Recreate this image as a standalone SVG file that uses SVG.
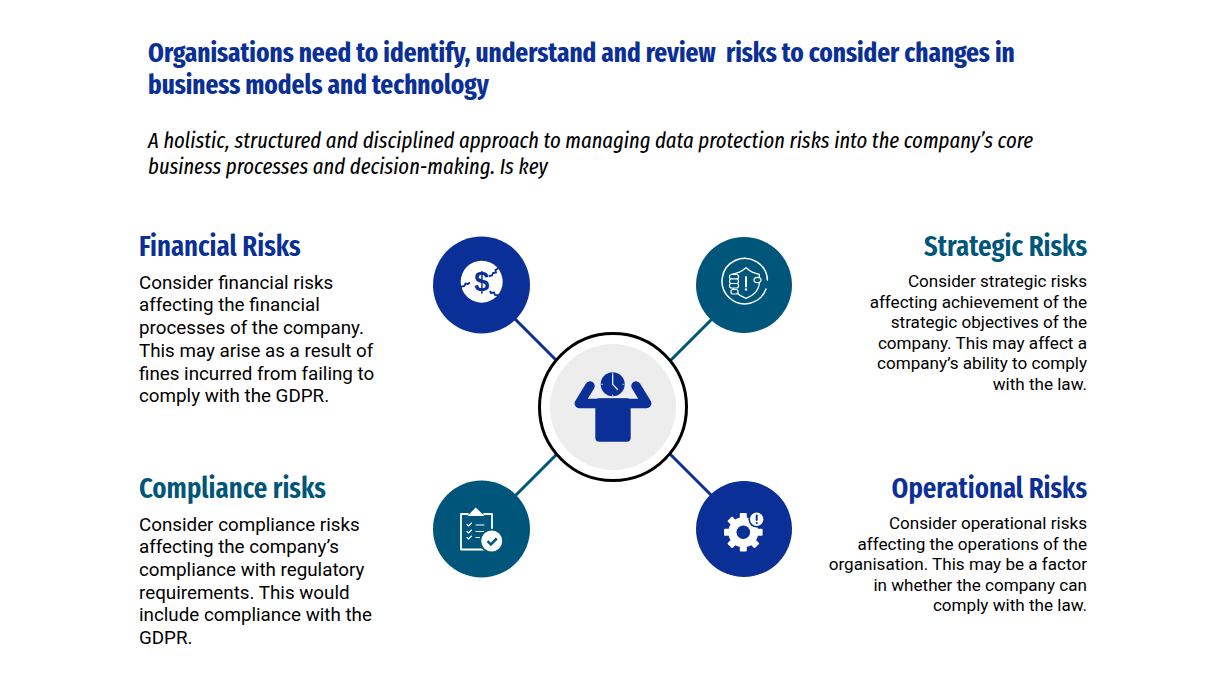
<svg xmlns="http://www.w3.org/2000/svg" width="1223" height="686" viewBox="0 0 1223 686">
<style>
.h{font-family:"Fira Sans Extra Condensed","Fira Sans Condensed","Liberation Sans Narrow",sans-serif;font-weight:700;white-space:pre}
.t{font-size:27.400px;fill:#0a2f96}
.i{font-family:"Fira Sans Extra Condensed","Fira Sans Condensed","Liberation Sans Narrow",sans-serif;font-style:italic;font-weight:400;font-size:22.400px;fill:#000}
.n{font-size:29px;font-weight:600}
.blue{fill:#0a2f96}
.teal{fill:#00567a}
.end{text-anchor:end}
.b{font-family:Roboto,"Liberation Sans",sans-serif;font-size:18.800px;fill:#000}
.s{font-family:Roboto,"Liberation Sans",sans-serif;font-size:17.100px;fill:#000;text-anchor:end}
.cb{stroke:#0a2f96;stroke-width:3;fill:none}
.ct{stroke:#00567a;stroke-width:3;fill:none}
.w{stroke:#fff;fill:none;stroke-linecap:round;stroke-linejoin:round}
</style>
<defs>
<rect id="tooth" x="739.800" y="513" width="7" height="8" rx="1" fill="#fff"/>
</defs>
<rect width="1223" height="686" fill="#fff"/>
<g id="title">
<text class="h t" x="148" y="62">Organisations need to identify, understand and review  risks to consider changes in</text>
<text class="h t" x="148" y="94">business models and technology</text>
<text class="i" x="148" y="148">A holistic, structured and disciplined approach to managing data protection risks into the company’s core</text>
<text class="i" x="148" y="174">business processes and decision-making. Is key</text>
</g>
<g id="connectors">
<line class="cb" x1="515" y1="319" x2="557" y2="361"/>
<line class="ct" x1="712" y1="319" x2="670" y2="361"/>
<line class="ct" x1="515" y1="496" x2="557" y2="454"/>
<line class="cb" x1="712" y1="496" x2="670" y2="454"/>
</g>
<g id="center">
<circle cx="613" cy="407" r="73.500" fill="#fff" stroke="#000" stroke-width="3"/>
<circle cx="613" cy="407" r="63" fill="#ededed"/>
<rect x="595.300" y="398.300" width="35.400" height="43.400" rx="4" class="blue"/>
<path d="M590 386L579.300 403.500H646.700L636 386" fill="none" stroke="#0a2f96" stroke-width="9.500" stroke-linecap="round" stroke-linejoin="round"/>
<circle cx="612.700" cy="384.300" r="12" class="blue"/>
<path d="M612.700 374.500V384.300L617.500 389.500" class="w" stroke-width="1.200"/>
<path d="M612.700 372.800v1M612.700 395v1M601.500 384.300h1M623 384.300h1" class="w" stroke-width=".8"/>
</g>
<g id="financial">
<circle cx="481.500" cy="285" r="48.500" class="blue"/>
<circle cx="481.700" cy="281.700" r="21" fill="#fff"/>
<path d="M499.500 267.500l-4 2.500 .5 2.500-3 .5-1 2.500-3 .5M459.500 287l5-1 1-2.500 2.500 .5 2-1.500M499.500 295.500l-4.500-.5-1-2.500-3 .5-1-2" fill="none" stroke="#0a2f96" stroke-width="1.800"/>
<text x="481.700" y="291" text-anchor="middle" font-family="Liberation Sans,sans-serif" font-weight="700" font-size="27" class="blue">$</text>
<text class="h n blue" x="139" y="256">Financial Risks</text>
<text class="b"><tspan x="139" y="289">Consider financial risks</tspan><tspan x="139" y="311">affecting the financial</tspan><tspan x="139" y="334">processes of the company.</tspan><tspan x="139" y="357">This may arise as a result of</tspan><tspan x="139" y="380">fines incurred from failing to</tspan><tspan x="139" y="402">comply with the GDPR.</tspan></text>
</g>
<g id="strategic">
<circle cx="744" cy="285" r="48" class="teal"/>
<path d="M767.400 280A22.700 22.700 0 1 0 766 289" class="w" stroke-width="1.500"/>
<path d="M746 267.700Q752 273 759.300 274.300V284Q758 294 746 298.300Q734 294 731.700 284V274.300Q740 273 746 267.700Z" class="w" stroke-width="1.300"/>
<path d="M746 277V286.500" class="w" stroke-width="2"/>
<circle cx="746" cy="289.500" r="1.200" fill="#fff"/>
<g fill="#00567a" stroke="#fff" stroke-width="1.200"><rect x="729.500" y="274.500" width="9" height="4.500" rx="2"/><rect x="729.500" y="279" width="9" height="4.500" rx="2"/><rect x="729.500" y="283.500" width="9" height="4.500" rx="2"/><rect x="731" y="289.500" width="7" height="4.500" rx="2"/><ellipse cx="757.500" cy="280" rx="3.500" ry="2.700"/></g>
<text class="h n teal end" x="1087" y="256">Strategic Risks</text>
<text class="s"><tspan x="1087" y="287">Consider strategic risks</tspan><tspan x="1087" y="308">affecting achievement of the</tspan><tspan x="1087" y="328">strategic objectives of the</tspan><tspan x="1087" y="349">company. This may affect a</tspan><tspan x="1087" y="369">company’s ability to comply</tspan><tspan x="1087" y="390">with the law.</tspan></text>
</g>
<g id="compliance">
<circle cx="481.500" cy="529" r="48.500" class="teal"/>
<path d="M468 514H461V549.500H491" class="w" stroke-width="1.800"/>
<path d="M484 514H492V530" class="w" stroke-width="1.800"/>
<path d="M475.700 507.500L484.500 516H467.500Z" fill="#fff"/>
<path d="M467 524.500l1.500 1.500 3-3M467 531.500l1.500 1.500 3-3M467 537.500l1.500 1.500 3-3" class="w" stroke-width="1.100"/>
<path d="M476 525H484M476 531.500H484M476 537.500H480" class="w" stroke-width="1.100"/>
<circle cx="491.700" cy="541" r="12.200" class="teal"/>
<circle cx="491.700" cy="541" r="10.500" fill="#fff"/>
<path d="M487.500 541l3.300 3.500 6-6" fill="none" stroke="#00567a" stroke-width="2.500"/>
<text class="h n teal" x="139" y="498">Compliance risks</text>
<text class="b"><tspan x="139" y="531">Consider compliance risks</tspan><tspan x="139" y="553">affecting the company’s</tspan><tspan x="139" y="576">compliance with regulatory</tspan><tspan x="139" y="599">requirements. This would</tspan><tspan x="139" y="621">include compliance with the</tspan><tspan x="139" y="644">GDPR.</tspan></text>
</g>
<g id="operational">
<circle cx="744" cy="529" r="48" class="blue"/>
<circle cx="743.300" cy="532.300" r="15" fill="#fff"/>
<use href="#tooth"/>
<use href="#tooth" transform="rotate(45 743.300 532.300)"/>
<use href="#tooth" transform="rotate(90 743.300 532.300)"/>
<use href="#tooth" transform="rotate(135 743.300 532.300)"/>
<use href="#tooth" transform="rotate(180 743.300 532.300)"/>
<use href="#tooth" transform="rotate(225 743.300 532.300)"/>
<use href="#tooth" transform="rotate(270 743.300 532.300)"/>
<use href="#tooth" transform="rotate(315 743.300 532.300)"/>
<circle cx="743.300" cy="532.300" r="6.800" class="blue"/>
<circle cx="756.700" cy="519.300" r="8.300" class="blue"/>
<circle cx="756.700" cy="519.300" r="6.700" fill="#fff"/>
<path d="M756.700 515.500V520" stroke="#0a2f96" stroke-width="2" stroke-linecap="round"/>
<circle cx="756.700" cy="523" r="1.100" class="blue"/>
<text class="h n blue end" x="1087" y="498">Operational Risks</text>
<text class="s"><tspan x="1087" y="529">Consider operational risks</tspan><tspan x="1087" y="550">affecting the operations of the</tspan><tspan x="1087" y="570">organisation. This may be a factor</tspan><tspan x="1087" y="591">in whether the company can</tspan><tspan x="1087" y="611">comply with the law.</tspan></text>
</g>
</svg>
